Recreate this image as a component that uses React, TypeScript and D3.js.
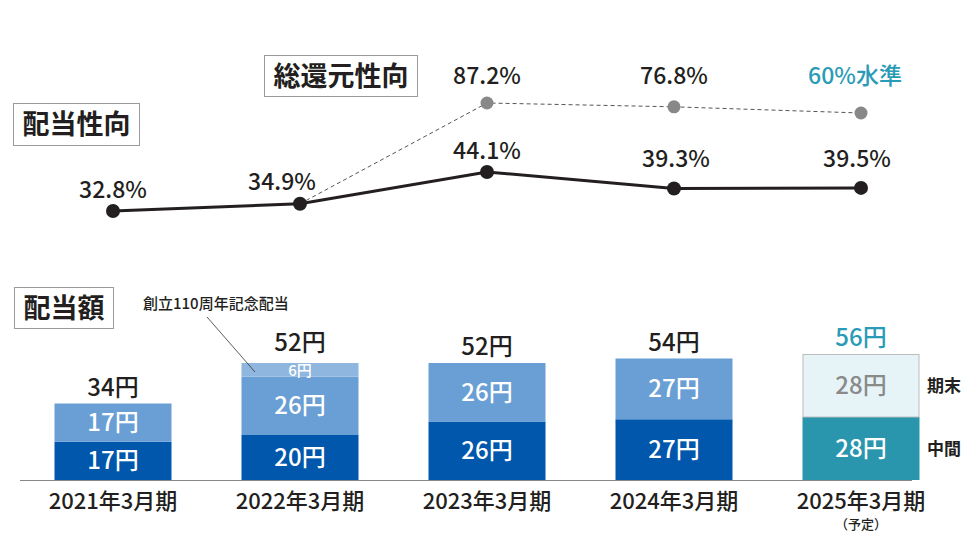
import React from 'react';
import * as d3 from 'd3';

const categories = ['2021年3月期', '2022年3月期', '2023年3月期', '2024年3月期', '2025年3月期'];
const interim = [17, 20, 26, 27, 28];
const yearEnd = [17, 26, 26, 27, 28];
const commemorative = [0, 6, 0, 0, 0];
const totals = [34, 52, 52, 54, 56];
const payoutRatio = [32.8, 34.9, 44.1, 39.3, 39.5];
const payoutLabels = ['32.8%', '34.9%', '44.1%', '39.3%', '39.5%'];
const totalReturn: (number | null)[] = [null, null, 87.2, 76.8, 60];
const totalReturnLabels = ['', '', '87.2%', '76.8%', '60%水準'];

const W = 970;
const H = 543;
const FONT = '"Noto Sans CJK JP", "Noto Sans", sans-serif';

const C_DARK = '#0057ab';
const C_MID = '#6a9fd5';
const C_PALE = '#8eb6de';
const C_TEAL = '#2a96ae';
const C_LIGHT = '#e6f4f8';
const C_TEAL_TEXT = '#2a9bb6';
const C_TEXT = '#231f20';

// label offsets (style)
const payoutDx = [0, -18, 0, 2, -4];
const payoutDy = [-13, -14, -13, -22, -21];

export default function App() {
  const x = d3.scalePoint<string>().domain(categories).range([113, 861]);
  const yBar = d3.scaleLinear().domain([0, 56]).range([480, 354]);
  const yPay = d3.scaleLinear().domain([32.8, 44.1]).range([211, 172]);
  const yTot = d3.scaleLinear().domain([60, 87.2]).range([113, 103]);
  const barW = 117;

  const payLine = d3.line<number>()
    .x((_, i) => x(categories[i]) as number)
    .y((d) => yPay(d));

  const totPts: [number, number][] = [];
  totPts.push([x(categories[1]) as number, yPay(payoutRatio[1])]);
  totalReturn.forEach((v, i) => {
    if (v != null) totPts.push([x(categories[i]) as number, yTot(v)]);
  });
  const totLine = d3.line();

  const isForecast = (i: number) => i === categories.length - 1;

  return (
    <svg width={W} height={H} style={{ position: 'absolute', left: 0, top: 0, background: '#fff' }} fontFamily={FONT}>
      {/* title boxes */}
      <g>
        <rect x={264.5} y={55.5} width={153} height={41} fill="#fff" stroke="#9a9a9a" />
        <text x={341} y={86} textAnchor="middle" fontSize={27} fontWeight={700} fill={C_TEXT}>総還元性向</text>
        <rect x={13.5} y={103.5} width={126} height={42} fill="#fff" stroke="#9a9a9a" />
        <text x={76.5} y={134} textAnchor="middle" fontSize={27} fontWeight={700} fill={C_TEXT}>配当性向</text>
        <rect x={14.5} y={287.5} width={99} height={41} fill="#fff" stroke="#9a9a9a" />
        <text x={64} y={318} textAnchor="middle" fontSize={27} fontWeight={700} fill={C_TEXT}>配当額</text>
      </g>

      {/* total return dashed line */}
      <path d={totLine(totPts) || ''} fill="none" stroke="#555" strokeWidth={1} strokeDasharray="4,3" />
      {totalReturn.map((v, i) => v == null ? null : (
        <circle key={'tc' + i} cx={x(categories[i])} cy={yTot(v)} r={6.5} fill="#888" />
      ))}
      {totalReturnLabels.map((t, i) => t === '' ? null : (
        <text key={'tl' + i} x={(x(categories[i]) as number) + (isForecast(i) ? -6 : 0)} y={84} textAnchor="middle" fontSize={23}
          fontWeight={500} fill={isForecast(i) ? C_TEAL_TEXT : C_TEXT}>{t}</text>
      ))}

      {/* payout line */}
      <path d={payLine(payoutRatio) || ''} fill="none" stroke={C_TEXT} strokeWidth={3} />
      {payoutRatio.map((v, i) => (
        <circle key={'pc' + i} cx={x(categories[i])} cy={yPay(v)} r={7} fill={C_TEXT} />
      ))}
      {payoutLabels.map((t, i) => (
        <text key={'pl' + i} x={(x(categories[i]) as number) + payoutDx[i]} y={yPay(payoutRatio[i]) + payoutDy[i]}
          textAnchor="middle" fontSize={23} fontWeight={500} fill={C_TEXT}>{t}</text>
      ))}

      {/* bars */}
      {categories.map((c, i) => {
        const cx = x(c) as number;
        const x0 = cx - barW / 2;
        const yI = yBar(interim[i]);
        const yE = yBar(interim[i] + yearEnd[i]);
        const yC = yBar(interim[i] + yearEnd[i] + commemorative[i]);
        const f = isForecast(i);
        return (
          <g key={'b' + i}>
            <rect x={x0} y={yI} width={barW} height={yBar(0) - yI} fill={f ? C_TEAL : C_DARK} />
            <rect x={f ? x0 + 0.5 : x0} y={f ? yE + 0.5 : yE} width={f ? barW - 1 : barW} height={yI - yE - (f ? 0.5 : 0)}
              fill={f ? C_LIGHT : C_MID} stroke={f ? '#bcbcbc' : 'none'} />
            {commemorative[i] > 0 && (
              <rect x={x0} y={yC} width={barW} height={yE - yC} fill={C_PALE} />
            )}
            <text x={cx} y={(yI + yBar(0)) / 2 + 8.5} textAnchor="middle" fontSize={24} fontWeight={500} fill="#fff">{interim[i]}円</text>
            <text x={cx} y={(yI + yE) / 2 + 8.5} textAnchor="middle" fontSize={24} fontWeight={500} fill={f ? '#8a8a8a' : '#fff'}>{yearEnd[i]}円</text>
            {commemorative[i] > 0 && (
              <text x={cx} y={(yE + yC) / 2 + 6} textAnchor="middle" fontSize={15} fontWeight={500} fill="#fff">{commemorative[i]}円</text>
            )}
            <text x={cx} y={yBar(totals[i]) - (commemorative[i] > 0 ? 12 : 8)} textAnchor="middle" fontSize={24} fontWeight={500}
              fill={f ? C_TEAL_TEXT : C_TEXT}>{totals[i]}円</text>
            <text x={cx} y={509} textAnchor="middle" fontSize={22} fontWeight={500} fill={C_TEXT}>{c}</text>
            {f && (
              <text x={cx} y={529} textAnchor="middle" fontSize={13} fontWeight={500} fill={C_TEXT}>（予定）</text>
            )}
          </g>
        );
      })}

      {/* axis line */}
      <line x1={20} x2={912} y1={yBar(0) + 0.5} y2={yBar(0) + 0.5} stroke="#888" strokeWidth={1} />

      {/* legend labels */}
      {(() => {
        const i = categories.length - 1;
        const yI = yBar(interim[i]);
        const yE = yBar(interim[i] + yearEnd[i]);
        return (
          <g>
            <text x={927} y={(yI + yE) / 2 + 6} fontSize={17} fontWeight={700} fill={C_TEXT}>期末</text>
            <text x={927} y={(yI + yBar(0)) / 2 + 6} fontSize={17} fontWeight={700} fill={C_TEXT}>中間</text>
          </g>
        );
      })()}

      {/* annotation */}
      <text x={143} y={309} fontSize={15} fontWeight={500} fill={C_TEXT}>創立110周年記念配当</text>
      <line x1={207} y1={317} x2={255} y2={372} stroke="#333" strokeWidth={0.8} />
    </svg>
  );
}
